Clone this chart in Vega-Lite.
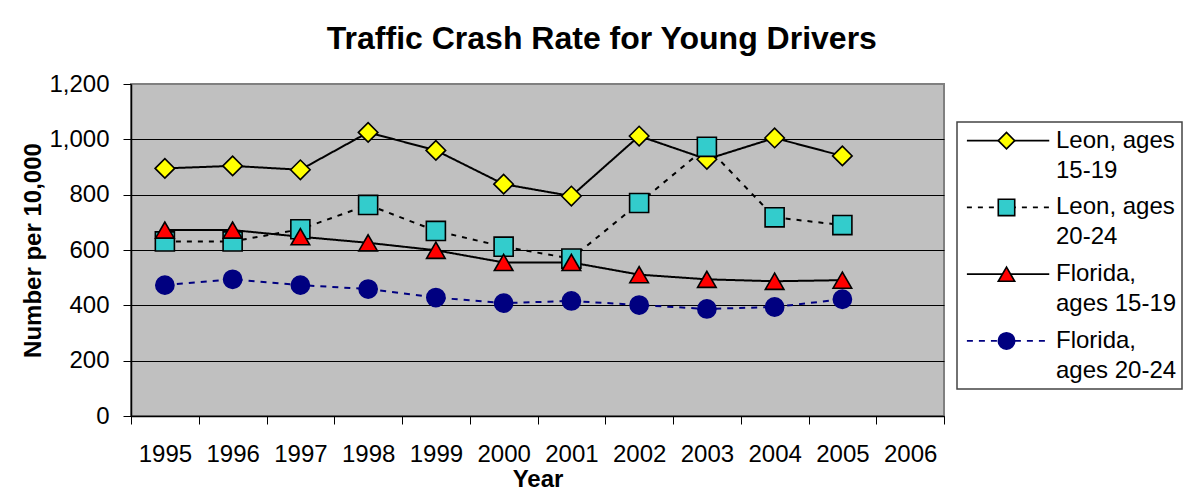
{
  "$schema": "https://vega.github.io/schema/vega-lite/v6.json",
  "background": "white",
  "padding": {"left": 20, "top": 23, "right": 0, "bottom": 0},
  "title": {"text": "Traffic Crash Rate for Young Drivers", "fontSize": 32, "font": "Liberation Sans", "fontWeight": "bold", "color": "#000000", "anchor": "middle", "offset": 15},
  "config": {"font": "Liberation Sans"},
  "spacing": 10,
  "datasets": {
    "rates": [
      {"series": "Leon, ages 15-19", "year": "1995", "value": 895},
      {"series": "Leon, ages 15-19", "year": "1996", "value": 904},
      {"series": "Leon, ages 15-19", "year": "1997", "value": 890},
      {"series": "Leon, ages 15-19", "year": "1998", "value": 1025},
      {"series": "Leon, ages 15-19", "year": "1999", "value": 960},
      {"series": "Leon, ages 15-19", "year": "2000", "value": 838},
      {"series": "Leon, ages 15-19", "year": "2001", "value": 795},
      {"series": "Leon, ages 15-19", "year": "2002", "value": 1012},
      {"series": "Leon, ages 15-19", "year": "2003", "value": 928},
      {"series": "Leon, ages 15-19", "year": "2004", "value": 1005},
      {"series": "Leon, ages 15-19", "year": "2005", "value": 940},
      {"series": "Leon, ages 20-24", "year": "1995", "value": 631},
      {"series": "Leon, ages 20-24", "year": "1996", "value": 631},
      {"series": "Leon, ages 20-24", "year": "1997", "value": 675},
      {"series": "Leon, ages 20-24", "year": "1998", "value": 763},
      {"series": "Leon, ages 20-24", "year": "1999", "value": 669},
      {"series": "Leon, ages 20-24", "year": "2000", "value": 612},
      {"series": "Leon, ages 20-24", "year": "2001", "value": 569},
      {"series": "Leon, ages 20-24", "year": "2002", "value": 770},
      {"series": "Leon, ages 20-24", "year": "2003", "value": 973},
      {"series": "Leon, ages 20-24", "year": "2004", "value": 718},
      {"series": "Leon, ages 20-24", "year": "2005", "value": 690},
      {"series": "Florida, ages 15-19", "year": "1995", "value": 672},
      {"series": "Florida, ages 15-19", "year": "1996", "value": 672},
      {"series": "Florida, ages 15-19", "year": "1997", "value": 648},
      {"series": "Florida, ages 15-19", "year": "1998", "value": 626},
      {"series": "Florida, ages 15-19", "year": "1999", "value": 599},
      {"series": "Florida, ages 15-19", "year": "2000", "value": 555},
      {"series": "Florida, ages 15-19", "year": "2001", "value": 555},
      {"series": "Florida, ages 15-19", "year": "2002", "value": 511},
      {"series": "Florida, ages 15-19", "year": "2003", "value": 494},
      {"series": "Florida, ages 15-19", "year": "2004", "value": 487},
      {"series": "Florida, ages 15-19", "year": "2005", "value": 491},
      {"series": "Florida, ages 20-24", "year": "1995", "value": 473},
      {"series": "Florida, ages 20-24", "year": "1996", "value": 494},
      {"series": "Florida, ages 20-24", "year": "1997", "value": 473},
      {"series": "Florida, ages 20-24", "year": "1998", "value": 459},
      {"series": "Florida, ages 20-24", "year": "1999", "value": 428},
      {"series": "Florida, ages 20-24", "year": "2000", "value": 408},
      {"series": "Florida, ages 20-24", "year": "2001", "value": 416},
      {"series": "Florida, ages 20-24", "year": "2002", "value": 401},
      {"series": "Florida, ages 20-24", "year": "2003", "value": 387},
      {"series": "Florida, ages 20-24", "year": "2004", "value": 394},
      {"series": "Florida, ages 20-24", "year": "2005", "value": 422}
    ],
    "legend": [
      {"series": "Leon, ages 15-19", "label": "Leon, ages\n15-19"},
      {"series": "Leon, ages 20-24", "label": "Leon, ages\n20-24"},
      {"series": "Florida, ages 15-19", "label": "Florida,\nages 15-19"},
      {"series": "Florida, ages 20-24", "label": "Florida,\nages 20-24"}
    ]
  },
  "hconcat": [
    {
      "width": 813,
      "height": 332,
      "view": {"fill": "#C0C0C0", "stroke": "#808080", "strokeWidth": 2},
      "data": {"name": "rates"},
      "encoding": {
        "x": {
          "field": "year", "type": "ordinal",
          "scale": {"type": "band", "domain": ["1995","1996","1997","1998","1999","2000","2001","2002","2003","2004","2005","2006"], "paddingInner": 0, "paddingOuter": 0},
          "axis": {"title": "Year", "labelAngle": 0, "tickBand": "extent", "tickSize": 8, "tickColor": "#000000", "tickWidth": 1, "domainColor": "#000000", "domainWidth": 1.5, "labelFontSize": 24, "labelColor": "#000000", "labelPadding": 18, "titleFontSize": 24, "titleFontWeight": "bold", "titleColor": "#000000", "titlePadding": 1, "grid": false}
        },
        "y": {
          "field": "value", "type": "quantitative",
          "scale": {"domain": [0, 1200]},
          "axis": {"title": "Number per 10,000", "values": [0,200,400,600,800,1000,1200], "format": ",.0f", "tickSize": 8, "tickColor": "#000000", "domainColor": "#000000", "domainWidth": 1.5, "labelFontSize": 24, "labelColor": "#000000", "labelPadding": 14, "titleFontSize": 24, "titleFontWeight": "bold", "titleColor": "#000000", "titlePadding": 3, "grid": true, "gridColor": {"condition": {"test": "datum.value == 1200", "value": "#808080"}, "value": "#000000"}, "gridWidth": 1, "gridOpacity": 1}
        }
      },
      "layer": [
        {
          "mark": {"type": "line", "strokeWidth": 2},
          "encoding": {
            "stroke": {"field": "series", "type": "nominal", "scale": {"domain": ["Leon, ages 15-19","Leon, ages 20-24","Florida, ages 15-19","Florida, ages 20-24"], "range": ["#000000","#000000","#000000","#000080"]}, "legend": null},
            "strokeDash": {"field": "series", "type": "nominal", "scale": {"domain": ["Leon, ages 15-19","Leon, ages 20-24","Florida, ages 15-19","Florida, ages 20-24"], "range": [[1,0],[5,6],[1,0],[6,6]]}, "legend": null}
          }
        },
        {
          "mark": {"type": "point", "filled": true, "opacity": 1, "strokeWidth": 1.6},
          "encoding": {
            "shape": {"field": "series", "type": "nominal", "scale": {"domain": ["Leon, ages 15-19","Leon, ages 20-24","Florida, ages 15-19","Florida, ages 20-24"], "range": ["diamond","square","triangle-up","circle"]}, "legend": null},
            "fill": {"field": "series", "type": "nominal", "scale": {"domain": ["Leon, ages 15-19","Leon, ages 20-24","Florida, ages 15-19","Florida, ages 20-24"], "range": ["#FFFF00","#33CCCC","#FF0000","#000080"]}, "legend": null},
            "stroke": {"field": "series", "type": "nominal", "legend": null},
            "size": {"field": "series", "type": "nominal", "scale": {"domain": ["Leon, ages 15-19","Leon, ages 20-24","Florida, ages 15-19","Florida, ages 20-24"], "range": [380, 330, 480, 400]}, "legend": null}
          }
        }
      ]
    },
    {
      "spacing": 12,
      "vconcat": [
        {
          "width": 225,
          "height": 25,
          "view": {"stroke": null, "fill": null},
          "data": {"name": "legend"},
          "mark": {"type": "text", "opacity": 0},
          "encoding": {"text": {"value": ""}}
        },
        {
          "width": 225,
          "height": 267,
          "view": {"fill": "white", "stroke": "#444444", "strokeWidth": 1.5},
          "data": {"name": "legend"},
          "encoding": {
            "y": {"field": "series", "type": "nominal", "scale": {"type": "band", "domain": ["Leon, ages 15-19","Leon, ages 20-24","Florida, ages 15-19","Florida, ages 20-24"], "paddingInner": 0, "paddingOuter": 0}, "axis": null}
          },
          "layer": [
            {
              "mark": {"type": "rule", "strokeWidth": 1.8},
              "encoding": {
                "x": {"datum": 0.044, "type": "quantitative", "scale": {"domain": [0, 1]}, "axis": null},
                "x2": {"datum": 0.41},
                "y": {"field": "series", "type": "nominal", "bandPosition": 0.28},
                "stroke": {"field": "series", "type": "nominal", "legend": null},
                "strokeDash": {"field": "series", "type": "nominal", "legend": null}
              }
            },
            {
              "mark": {"type": "point", "filled": true, "opacity": 1, "strokeWidth": 1.6},
              "encoding": {
                "x": {"datum": 0.22, "type": "quantitative"},
                "y": {"field": "series", "type": "nominal", "bandPosition": 0.28},
                "shape": {"field": "series", "type": "nominal", "legend": null},
                "fill": {"field": "series", "type": "nominal", "legend": null},
                "stroke": {"field": "series", "type": "nominal", "legend": null},
                "size": {"value": 270}
              }
            },
            {
              "mark": {"type": "text", "align": "left", "baseline": "middle", "lineBreak": "\n", "lineHeight": 30, "fontSize": 24, "color": "#000000"},
              "encoding": {
                "x": {"datum": 0.44, "type": "quantitative"},
                "y": {"field": "series", "type": "nominal", "bandPosition": 0.28},
                "text": {"field": "label"}
              }
            }
          ]
        }
      ]
    }
  ]
}
